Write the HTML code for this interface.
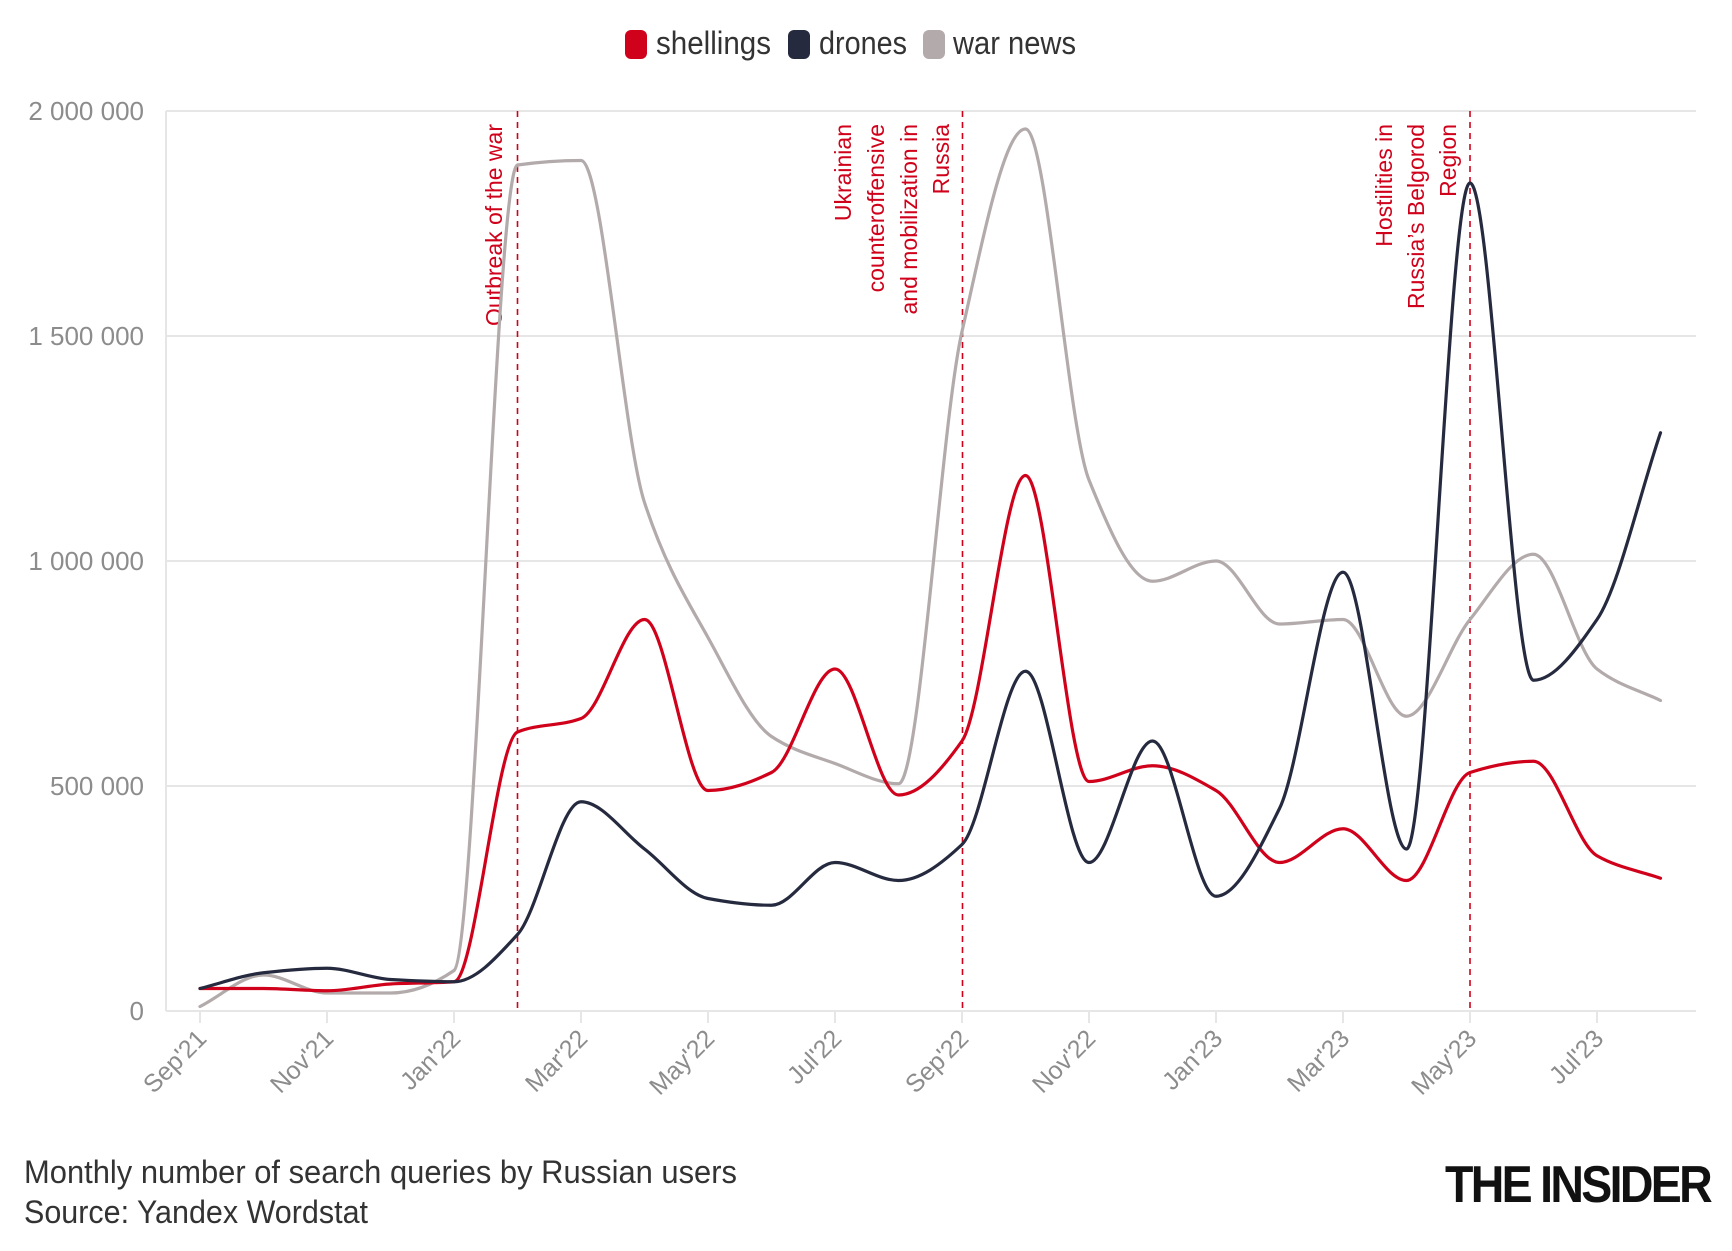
<!DOCTYPE html>
<html><head><meta charset="utf-8"><style>
html,body{margin:0;padding:0;background:#fff}
svg{display:block}
text{font-family:"Liberation Sans Narrow","Liberation Sans",sans-serif}
</style></head><body>
<svg id="s" width="1732" height="1251" viewBox="0 0 1732 1251" xmlns="http://www.w3.org/2000/svg">
<g id="grid" stroke="#e6e6e6" stroke-width="2"></g>
<g id="ylab" fill="#8c8c8c" font-size="26" text-anchor="end"></g>
<g id="xlab" fill="#8c8c8c" font-size="25" text-anchor="end"></g>
<g stroke="#d0021b" stroke-width="1.6" stroke-dasharray="6,5">
<line x1="517.5" y1="111" x2="517.5" y2="1011"/>
<line x1="962.5" y1="111" x2="962.5" y2="1011"/>
<line x1="1470" y1="111" x2="1470" y2="1011"/>
</g>
<g fill="#d0021b" font-size="23" text-anchor="end">
<text transform="translate(502,124) rotate(-90)">Outbreak of the war</text>
<text transform="translate(851,124) rotate(-90)">Ukrainian</text>
<text transform="translate(884,124) rotate(-90)">counteroffensive</text>
<text transform="translate(917,124) rotate(-90)">and mobilization in</text>
<text transform="translate(949,124) rotate(-90)">Russia</text>
<text transform="translate(1392,124) rotate(-90)">Hostilities in</text>
<text transform="translate(1424,124) rotate(-90)">Russia’s Belgorod</text>
<text transform="translate(1456,124) rotate(-90)">Region</text>
</g>
<g id="lines" fill="none" stroke-width="3.2" stroke-linejoin="round" stroke-linecap="round"></g>
<g font-size="32" fill="#333">
<rect x="625" y="30" width="22" height="29" rx="6" fill="#d0021b"/>
<text x="656" y="54" textLength="115" lengthAdjust="spacingAndGlyphs">shellings</text>
<rect x="788" y="30" width="22" height="29" rx="6" fill="#252a3f"/>
<text x="819" y="54" textLength="88" lengthAdjust="spacingAndGlyphs">drones</text>
<rect x="923" y="30" width="22" height="29" rx="6" fill="#b3abab"/>
<text x="953" y="54" textLength="123" lengthAdjust="spacingAndGlyphs">war news</text>
</g>
<g font-size="32" fill="#333">
<text x="24" y="1183" textLength="713" lengthAdjust="spacingAndGlyphs">Monthly number of search queries by Russian users</text>
<text x="24" y="1223" textLength="344" lengthAdjust="spacingAndGlyphs">Source: Yandex Wordstat</text>
</g>
<text x="1445" y="1202" font-family="Liberation Sans,sans-serif" font-weight="bold" font-size="52" letter-spacing="-3" fill="#111" textLength="265" lengthAdjust="spacingAndGlyphs">THE INSIDER</text>
</svg>
<script>
var NS="http://www.w3.org/2000/svg";
function el(p,t,a,txt){var e=document.createElementNS(NS,t);for(var k in a)e.setAttribute(k,a[k]);if(txt)e.textContent=txt;document.getElementById(p).appendChild(e);return e;}
var y0=1011,py=225/500;
function Y(v){return y0-v*py}
function X(i){return 200+i*63.5}
var labs=["0","500 000","1 000 000","1 500 000","2 000 000"];
for(var i=0;i<5;i++){var y=Y(i*500);el("grid","line",{x1:166,x2:1696,y1:y,y2:y});el("ylab","text",{x:144,y:y+9},labs[i]);}
el("grid","line",{x1:166,x2:166,y1:111,y2:1011});
var xl=["Sep'21","Nov'21","Jan'22","Mar'22","May'22","Jul'22","Sep'22","Nov'22","Jan'23","Mar'23","May'23","Jul'23"];
for(var i=0;i<12;i++){var x=X(i*2);el("grid","line",{x1:x,x2:x,y1:1011,y2:1023});el("xlab","text",{transform:"translate("+(x+8)+",1040) rotate(-45)"},xl[i]);}
var data={
"#b3abab":[10,80,40,40,90,1880,1890,1130,830,610,550,505,1510,1960,1180,955,1000,860,870,655,870,1015,760,690],
"#d0021b":[50,50,45,60,65,620,650,870,490,530,760,480,600,1190,510,545,490,330,405,290,530,555,345,295],
"#252a3f":[50,85,95,70,65,170,465,360,250,235,330,290,370,755,330,600,255,450,975,360,1840,735,870,1285]};
for(var c in data){var d=data[c],n=d.length,p=[];for(var i=0;i<n;i++)p.push([X(i),Y(d[i])]);
var h=63.5,del=[],m=[];
for(var i=0;i<n-1;i++)del.push((p[i+1][1]-p[i][1])/h);
m[0]=del[0];m[n-1]=del[n-2];
for(var i=1;i<n-1;i++){if(del[i-1]*del[i]<=0)m[i]=0;else m[i]=2/(1/del[i-1]+1/del[i]);}
var s="M"+p[0][0]+","+p[0][1];
for(var i=0;i<n-1;i++){var b=p[i],e=p[i+1];
s+=" C"+(b[0]+h/3)+","+(b[1]+m[i]*h/3)+" "+(e[0]-h/3)+","+(e[1]-m[i+1]*h/3)+" "+e[0]+","+e[1];}
el("lines","path",{d:s,stroke:c});}
</script>
</body></html>
